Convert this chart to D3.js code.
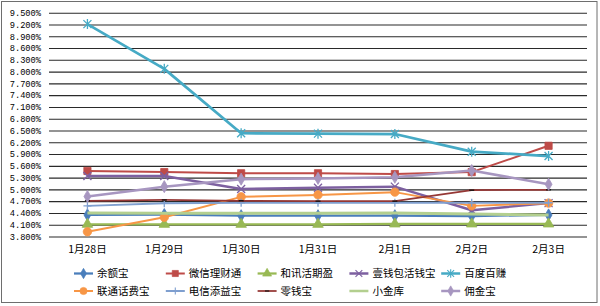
<!DOCTYPE html>
<html>
<head>
<meta charset="utf-8">
<script src="https://cdn.jsdelivr.net/npm/d3@7"></script>
<style>
body { margin: 0; background: #fff; }
svg { display: block; }
</style>
</head>
<body>
<div id="chart"></div>
<script>
// Yield comparison line chart (D3 v7)

const categories = ['1月28日', '1月29日', '1月30日', '1月31日', '2月1日', '2月2日', '2月3日'];
const yTicks = [3.8, 4.1, 4.4, 4.7, 5.0, 5.3, 5.6, 5.9, 6.2, 6.5, 6.8, 7.1, 7.4, 7.7, 8.0, 8.3, 8.6, 8.9, 9.2, 9.5];

const seriesNames = ['余额宝', '微信理财通', '和讯活期盈', '壹钱包活钱宝', '百度百赚', '联通话费宝', '电信添益宝', '零钱宝', '小金库', '佣金宝'];
const yuebao   = [4.35, 4.36, 4.33, 4.33, 4.33, 4.32, 4.35];
const weixin   = [5.47, 5.44, 5.41, 5.41, 5.39, 5.44, 6.11];
const hexun    = [4.11, 4.11, 4.11, 4.11, 4.12, 4.12, 4.12];
const yiqianbao = [5.34, 5.34, 5.01, 5.04, 5.07, 4.47, 4.65];
const baidu    = [9.21, 8.07, 6.43, 6.42, 6.41, 5.96, 5.85];
const liantong = [3.92, 4.29, 4.81, 4.86, 4.93, 4.58, 4.65];
const dianxin  = [4.58, 4.65, 4.66, 4.66, 4.66, 4.66, 4.66];
const lingqian = [4.71, 4.73, 4.71, 4.70, 4.70, 4.98, 4.99];
const xiaojinku = [4.40, 4.39, 4.39, 4.39, 4.40, 4.37, 4.35];
const yongjin  = [4.82, 5.07, 5.26, 5.28, 5.31, 5.48, 5.13];

const seriesValues = [yuebao, weixin, hexun, yiqianbao, baidu, liantong, dianxin, lingqian, xiaojinku, yongjin];

// look of each series, in the same order as seriesNames
const styles = [
	{ color: '#4a7ebb', marker: 'diamond', width: 2.25 },
	{ color: '#be4b48', marker: 'square', width: 2 },
	{ color: '#98b954', marker: 'triangle', width: 2.25 },
	{ color: '#7d60a0', marker: 'x', width: 2.5 },
	{ color: '#46aac5', marker: 'star', width: 2.75 },
	{ color: '#f79646', marker: 'circle', width: 2 },
	{ color: '#7f9fcf', marker: 'plus', width: 2 },
	{ color: '#953735', marker: 'dash', width: 1.75 },
	{ color: '#b3cf8f', marker: 'none', width: 3 },
	{ color: '#a796c0', marker: 'diamond', width: 2.5 }
];

const width = 600;
const height = 306;
const plot = { left: 49, right: 587, top: 12.7, bottom: 236.5 };

const svg = d3.select('#chart')
	.append('svg')
	.attr('width', width)
	.attr('height', height)
	.attr('viewBox', `0 0 ${width} ${height}`);

// outer frame
svg.append('rect')
	.attr('x', 1.5)
	.attr('y', 1.5)
	.attr('width', 595.5)
	.attr('height', 301)
	.attr('fill', '#fff')
	.attr('stroke', '#6e6e6e')
	.attr('stroke-width', 1);

const x = d3.scaleBand()
	.domain(categories)
	.range([plot.left, plot.right]);

const y = d3.scaleLinear()
	.domain([d3.min(yTicks), d3.max(yTicks)])
	.range([plot.bottom, plot.top]);

// gridlines and y labels
const yAxis = d3.axisLeft(y)
	.tickValues(yTicks)
	.tickSize(-(plot.right - plot.left))
	.tickPadding(8)
	.tickFormat(d => d3.format('.3f')(d) + '%');

const yG = svg.append('g')
	.attr('transform', `translate(${plot.left},0)`)
	.call(yAxis);
yG.select('.domain').remove();
yG.selectAll('.tick line')
	.attr('stroke', '#2a2a2a')
	.attr('stroke-width', 1.1);
yG.selectAll('.tick text')
	.attr('fill', '#000')
	.style('font-family', '"Liberation Mono", monospace')
	.style('font-size', '8.7px');

// x labels
const xAxis = d3.axisBottom(x).tickSize(0).tickPadding(9);
const xG = svg.append('g')
	.attr('transform', `translate(0,${plot.bottom})`)
	.call(xAxis);
xG.select('.domain').remove();
xG.selectAll('.tick text')
	.attr('fill', '#000')
	.style('font-family', '"Noto Sans CJK SC", sans-serif')
	.style('font-size', '10.5px');

const cx = d => x(d) + x.bandwidth() / 2;

function markerPath(type) {
	switch (type) {
		case 'diamond': return d3.symbol(d3.symbolDiamond, 42)();
		case 'square': return d3.symbol(d3.symbolSquare, 52)();
		case 'triangle': return d3.symbol(d3.symbolTriangle, 48)();
		case 'circle': return d3.symbol(d3.symbolCircle, 56)();
		case 'x': return 'M-4,-4L4,4M-4,4L4,-4';
		case 'star': return 'M-4,-4L4,4M-4,4L4,-4M0,-5L0,5';
		case 'plus': return 'M-4,0L4,0M0,-4L0,4';
		case 'dash': return 'M-2.5,0L2.5,0';
		default: return null;
	}
}

function drawMarker(sel, st) {
	const p = markerPath(st.marker);
	if (!p) return;
	const lineOnly = ['x', 'star', 'plus', 'dash'].includes(st.marker);
	sel.append('path')
		.attr('d', p)
		.attr('fill', lineOnly ? 'none' : st.color)
		.attr('stroke', st.marker === 'dash' ? '#111' : st.color)
		.attr('stroke-width', lineOnly ? 1.3 : 0.8);
}

const line = d3.line()
	.x((d, i) => cx(categories[i]))
	.y(d => y(d));

const seriesG = svg.append('g');

seriesValues.forEach((vals, si) => {
	const st = styles[si];
	const g = seriesG.append('g').attr('class', 'series');
	g.append('path')
		.datum(vals)
		.attr('d', line)
		.attr('fill', 'none')
		.attr('stroke', st.color)
		.attr('stroke-width', st.width)
		.attr('stroke-linejoin', 'round');
	g.selectAll('.pt')
		.data(vals)
		.enter()
		.append('g')
		.attr('class', 'pt')
		.attr('transform', (d, i) => `translate(${cx(categories[i])},${y(d)})`)
		.each(function () { drawMarker(d3.select(this), st); });
});

// legend (2 rows x 5 columns)
const legend = svg.append('g').attr('transform', 'translate(74,0)');
const legendItem = legend.selectAll('.legendItem')
	.data(seriesNames)
	.enter()
	.append('g')
	.attr('class', 'legendItem')
	.attr('transform', (d, i) => `translate(${(i % 5) * 91.8},${i < 5 ? 273.5 : 291})`);

legendItem.append('line')
	.attr('x1', 0)
	.attr('x2', 19)
	.attr('stroke', (d, i) => styles[i].color)
	.attr('stroke-width', (d, i) => Math.min(styles[i].width, 2.5));

legendItem.append('g')
	.attr('transform', 'translate(9.5,0) scale(0.85)')
	.each(function (d, i) { drawMarker(d3.select(this), styles[i]); });

legendItem.append('text')
	.attr('x', 23)
	.attr('y', 0)
	.attr('dy', '0.36em')
	.text(d => d)
	.style('font-family', '"Noto Sans CJK SC", sans-serif')
	.style('font-size', '10.5px')
	.attr('fill', '#000');
</script>
</body>
</html>
